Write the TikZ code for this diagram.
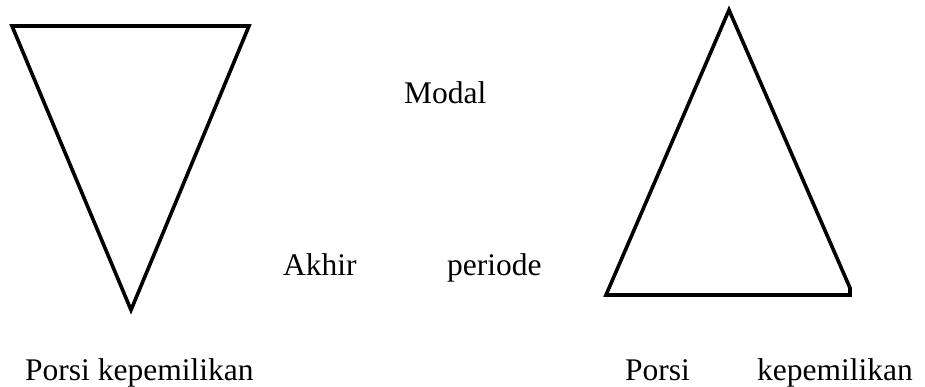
\documentclass[tikz,border=0pt]{standalone}
\usepackage{fontspec}
\setmainfont{Liberation Serif}
\begin{document}
\begin{tikzpicture}[x=1pt,y=-1pt,
  tri/.style={draw=black,line width=3.6pt,line join=miter},
  lbl/.style={anchor=base west,inner sep=0pt,font=\fontsize{31.5}{36}\selectfont}]
\useasboundingbox (0,0) rectangle (925,387);
% left inverted triangle
\coordinate (l1) at (12,26);
\coordinate (l2) at (249,26);
\coordinate (l3) at (131,310);
\draw[tri] (l1) -- (l2) -- (l3) -- cycle;
% right triangle
\coordinate (r1) at (729,10);
\coordinate (r2) at (850,288);
\coordinate (r3) at (850,295);
\coordinate (r4) at (606,295);
\draw[tri] (r1) -- (r2) -- (r3) -- (r4) -- cycle;
% labels
\node[lbl] (modal) at (404,104) {Modal};
\node[lbl] (akhir) at (283,275) {Akhir};
\node[lbl] (periode) at (447,275) {periode};
\node[lbl] (porsiL) at (25,380) {Porsi kepemilikan};
\node[lbl] (porsiR) at (625,380) {Porsi};
\node[lbl] (kepR) at (757,380) {kepemilikan};
\end{tikzpicture}
\end{document}
